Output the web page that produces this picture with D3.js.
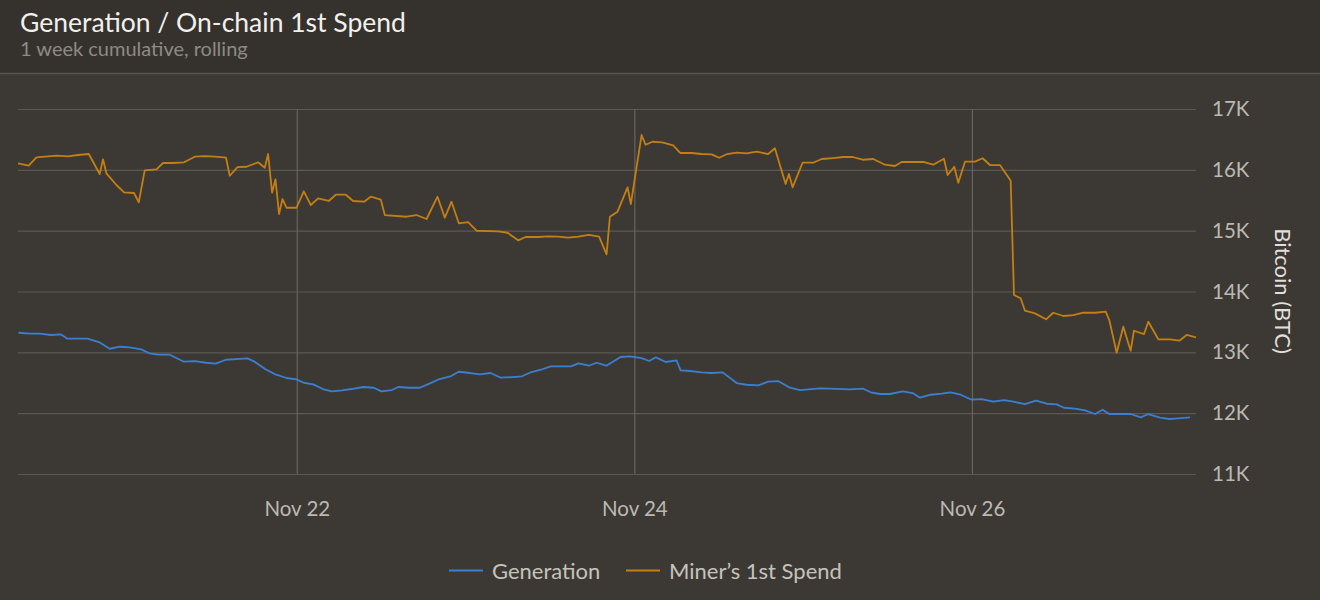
<!DOCTYPE html>
<html>
<head>
<meta charset="utf-8">
<script src="https://cdn.jsdelivr.net/npm/d3@7"></script>
<style>
  html, body { margin: 0; padding: 0; background: #3c3935; }
  svg { display: block; }
  text { font-family: Lato, "Noto Sans", sans-serif; }
</style>
</head>
<body>
<svg id="chart" width="1320" height="600"></svg>
<script>
// hours since 2022-11-20 00:00 UTC, and values in BTC
const spendHours = [8.36, 9.88, 10.98, 12.63, 13.82, 15.47, 16.9, 18.42, 19.98, 20.45, 20.93, 22.36, 23.44, 24.86, 25.53, 26.38, 28.05, 28.98, 30.41, 31.97,
  33.49, 34.92, 36.34, 37.94, 38.47, 39.57, 40.85, 42.5, 43.45, 43.92, 44.49, 44.97, 45.48, 45.97, 46.54, 47.96, 49.0, 49.99, 51.03, 52.55,
  53.55, 54.97, 56.01, 57.57, 58.52, 59.95, 60.52, 63.6, 65.02, 66.45, 68.01, 69.05, 70.0, 71.04, 72.36, 73.56, 76.63, 77.97, 79.47, 80.53,
  82.32, 83.74, 85.16, 86.59, 88.01, 89.53, 90.99, 92.05, 92.52, 93.61, 95.03, 95.5, 97.03, 97.59, 98.59, 99.96, 101.52, 102.52, 104.14, 105.56,
  106.98, 108.06, 109.2, 110.54, 111.96, 113.38, 115.03, 115.98, 117.51, 117.98, 118.5, 119.92, 121.43, 122.63, 124.28, 125.7, 127.04, 128.46, 129.97, 131.63,
  133.05, 134.0, 137.08, 138.5, 140.02, 140.55, 141.49, 142.06, 143.01, 144.43, 145.52, 146.56, 147.99, 149.51, 149.98, 150.93, 151.54, 152.96, 154.53, 155.57,
  156.99, 158.41, 159.83, 161.5, 163.02, 163.53, 164.58, 165.52, 166.57, 167.04, 168.47, 169.08, 170.5, 172.16, 173.49, 174.54, 175.86];
const spendValues = [16107, 16068, 16206, 16222, 16232, 16222, 16244, 16260, 15931, 16173, 15943, 15751, 15631, 15619, 15466, 15992, 16009, 16112, 16112, 16124,
  16216, 16227, 16216, 16199, 15903, 16046, 16051, 16124, 16035, 16260, 15624, 15844, 15274, 15520, 15377, 15377, 15647, 15422, 15532, 15488,
  15591, 15591, 15488, 15476, 15558, 15509, 15257, 15229, 15257, 15192, 15558, 15213, 15476, 15121, 15142, 14999, 14989, 14966, 14841, 14896,
  14896, 14907, 14901, 14884, 14901, 14929, 14901, 14611, 15229, 15312, 15713, 15438, 16573, 16413, 16462, 16453, 16403, 16277, 16277, 16260,
  16255, 16199, 16260, 16282, 16272, 16298, 16260, 16354, 15767, 15931, 15713, 16117, 16117, 16178, 16194, 16211, 16211, 16166, 16178, 16084,
  16063, 16129, 16129, 16084, 16183, 15915, 16051, 15788, 16134, 16134, 16190, 16079, 16079, 15821, 13942, 13888, 13684, 13641, 13543, 13651,
  13597, 13613, 13651, 13651, 13668, 13531, 12994, 13421, 13026, 13355, 13301, 13503, 13214, 13214, 13191, 13285, 13247];

const genHours = [8.43, 10.07, 11.43, 13.07, 14.42, 15.4, 18.23, 19.87, 21.39, 22.85, 24.22, 25.86, 27.05, 28.3, 29.94, 31.96, 33.48, 35.11, 36.47, 37.94,
  39.35, 40.99, 41.91, 43.55, 45.07, 46.54, 47.96, 48.98, 50.35, 51.71, 52.96, 54.43, 55.79, 57.43, 58.95, 60.03, 61.51, 62.44, 63.96, 65.48,
  66.94, 68.31, 69.95, 71.03, 72.66, 74.03, 75.55, 77.01, 78.65, 80.02, 81.37, 82.73, 84.1, 86.98, 88.07, 89.53, 90.63, 92.02, 94.04, 95.36,
  97.03, 98.11, 99.06, 100.48, 102.0, 102.57, 103.9, 105.56, 106.98, 108.55, 110.54, 111.96, 113.61, 115.03, 116.45, 118.12, 119.54, 122.38, 123.81, 126.65,
  128.54, 129.6, 130.92, 132.34, 134.15, 135.57, 136.61, 138.13, 139.69, 140.97, 142.4, 143.96, 145.38, 147.03, 148.55, 149.88, 151.54, 153.11, 154.63, 156.05,
  157.09, 158.65, 160.07, 161.5, 162.59, 163.53, 166.57, 168.0, 169.08, 170.74, 172.07, 173.35, 175.01];
const genValues = [13322, 13306, 13306, 13285, 13296, 13224, 13224, 13169, 13059, 13092, 13082, 13049, 12984, 12961, 12961, 12846, 12857, 12829, 12813, 12878,
  12890, 12901, 12852, 12721, 12632, 12578, 12556, 12500, 12474, 12397, 12359, 12375, 12397, 12430, 12418, 12359, 12380, 12430, 12418, 12418,
  12490, 12561, 12610, 12681, 12660, 12638, 12660, 12583, 12594, 12606, 12676, 12714, 12770, 12770, 12819, 12780, 12829, 12780, 12923, 12934,
  12906, 12857, 12918, 12841, 12869, 12704, 12693, 12671, 12660, 12671, 12495, 12467, 12457, 12517, 12528, 12418, 12380, 12408, 12402, 12392,
  12402, 12343, 12315, 12315, 12359, 12331, 12254, 12303, 12320, 12343, 12303, 12221, 12232, 12188, 12216, 12188, 12150, 12205, 12155, 12145,
  12089, 12073, 12047, 11986, 12057, 11986, 11986, 11932, 11986, 11925, 11904, 11915, 11932];

const yTicks = [11000, 12000, 13000, 14000, 15000, 16000, 17000];
const xTicks = ["2022-11-22", "2022-11-24", "2022-11-26"];
const seriesNames = ["Generation", "Miner\u2019s 1st Spend"];
const seriesColors = ["#3b7fd1", "#c47f12"];

const t0 = Date.UTC(2022, 10, 20);
const toDate = h => new Date(t0 + h * 3600 * 1000);

const spend = spendHours.map((h, i) => ({ date: toDate(h), value: spendValues[i] }));
const gen = genHours.map((h, i) => ({ date: toDate(h), value: genValues[i] }));

const W = 1320, H = 600;
const plot = { left: 18, right: 1196, top: 109, bottom: 474 };

const svg = d3.select("#chart");

// header band
svg.append("rect").attr("width", W).attr("height", H).attr("fill", "#3c3935");
svg.append("rect").attr("width", W).attr("height", 73).attr("fill", "#35322e");
svg.append("line").attr("x1", 0).attr("x2", W).attr("y1", 73.5).attr("y2", 73.5)
    .attr("stroke", "#57534d").attr("stroke-width", 1.5);

svg.append("text").attr("x", 20).attr("y", 32)
    .attr("fill", "#f2f0ec").attr("font-size", 26.5)
    .text("Generation / On-chain 1st Spend");
svg.append("text").attr("x", 20).attr("y", 56)
    .attr("fill", "#8d8a85").attr("font-size", 20)
    .text("1 week cumulative, rolling");

const x = d3.scaleUtc()
    .domain(d3.extent(spend.concat(gen), d => d.date))
    .range([plot.left, plot.right]);

const y = d3.scaleLinear()
    .domain([11000, 17000])
    .range([plot.bottom, plot.top]);

// horizontal grid + right axis labels
const yAxis = d3.axisRight(y)
    .tickValues(yTicks)
    .tickSize(-(plot.right - plot.left))
    .tickPadding(16)
    .tickFormat(d => d3.format("d")(d / 1000) + "K");

const gy = svg.append("g")
    .attr("transform", `translate(${plot.right},0)`)
    .call(yAxis);
gy.select(".domain").remove();
gy.selectAll(".tick line").attr("stroke", "#5b5751").attr("stroke-width", 1.2);
gy.selectAll(".tick text")
    .attr("fill", "#bcb8b2").attr("font-size", 20.5)
    .attr("font-family", "Lato, 'Noto Sans', sans-serif");

// vertical grid + bottom labels
const xAxis = d3.axisBottom(x)
    .tickValues(xTicks.map(d => new Date(d + "T00:00:00Z")))
    .tickSize(-(plot.bottom - plot.top))
    .tickPadding(27)
    .tickFormat(d3.utcFormat("%b %d"));

const gx = svg.append("g")
    .attr("transform", `translate(0,${plot.bottom})`)
    .call(xAxis);
gx.select(".domain").remove();
gx.selectAll(".tick line").attr("stroke", "#67635d").attr("stroke-width", 1.2);
gx.selectAll(".tick text")
    .attr("fill", "#bcb8b2").attr("font-size", 20.5)
    .attr("font-family", "Lato, 'Noto Sans', sans-serif");

// y axis title
svg.append("text")
    .attr("transform", "translate(1275,291) rotate(90)")
    .attr("text-anchor", "middle")
    .attr("fill", "#e2dfda").attr("font-size", 22)
    .text("Bitcoin (BTC)");

const line = d3.line()
    .x(d => x(d.date))
    .y(d => y(d.value));

svg.append("path").datum(gen)
    .attr("fill", "none").attr("stroke", seriesColors[0]).attr("stroke-width", 1.8)
    .attr("stroke-linejoin", "round")
    .attr("d", line);

svg.append("path").datum(spend)
    .attr("fill", "none").attr("stroke", seriesColors[1]).attr("stroke-width", 1.8)
    .attr("stroke-linejoin", "round")
    .attr("d", line);

// legend
const legendX = [449, 626];
const legend = svg.append("g");
seriesNames.forEach((name, i) => {
    legend.append("line")
        .attr("x1", legendX[i]).attr("x2", legendX[i] + 34)
        .attr("y1", 570.5).attr("y2", 570.5)
        .attr("stroke", seriesColors[i]).attr("stroke-width", 1.8);
    legend.append("text")
        .attr("x", legendX[i] + 43).attr("y", 579)
        .attr("fill", "#c6c2bc").attr("font-size", 22)
        .text(name);
});
</script>
</body>
</html>
